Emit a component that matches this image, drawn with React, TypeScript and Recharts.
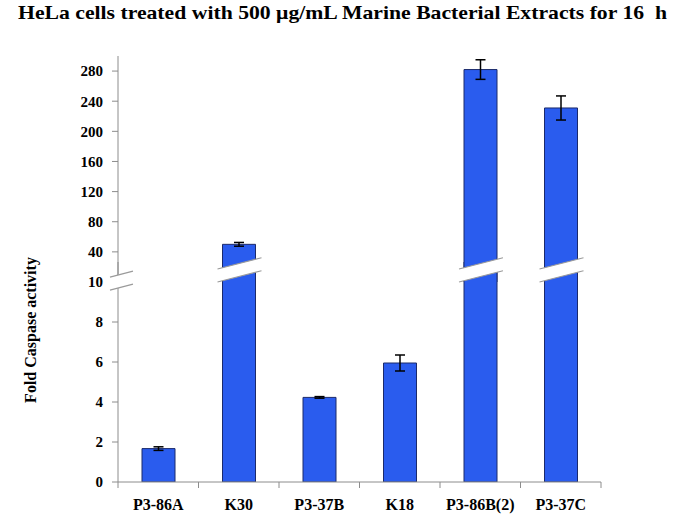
import React from 'react';
import { BarChart, Bar, XAxis, YAxis, ErrorBar } from 'recharts';

const categories = ['P3-86A', 'K30', 'P3-37B', 'K18', 'P3-86B(2)', 'P3-37C'];
const values = [1.67, 50, 4.23, 5.95, 282, 231];
const errors = [0.09, 2.5, 0.04, 0.4, 13, 16];
const lowerTicks = [0, 2, 4, 6, 8, 10];
const upperTicks = [40, 80, 120, 160, 200, 240, 280];
const BREAK_VALUE = 10;

const W = 685;
const H = 516;
const Y_AXIS_W = 118;
const RIGHT = 84;
const BAND = (W - Y_AXIS_W - RIGHT) / categories.length;
const FONT = '"Liberation Serif", "Times New Roman", serif';
const BAR_FILL = '#2A5CEE';
const BAR_STROKE = '#1B2A6B';
const AXIS = '#8C8C8C';
const SLOPE = -0.256;

const lowerData = categories.map((name, i) => ({
  name,
  value: values[i],
  err: values[i] <= BREAK_VALUE ? errors[i] : null,
}));
const upperData = categories.map((name, i) => ({
  name,
  value: values[i] > BREAK_VALUE ? values[i] : null,
  err: values[i] > BREAK_VALUE ? errors[i] : null,
}));

const BrokenBar = (props: any) => {
  const { x, y, width, height } = props;
  if (width == null || height == null || !isFinite(y)) return null;
  const bottom = y + height;
  const xc = x + width / 2;
  const yc = bottom - 12;
  const half = 6.5;
  const xl = x - 5;
  const xr = x + width + 6;
  const at = (X: number, off: number) => yc + SLOPE * (X - xc) + off;
  return (
    <g>
      <rect x={x} y={y} width={width} height={height} fill={BAR_FILL} />
      <path
        d={`M${x},${bottom} L${x},${y} L${x + width},${y} L${x + width},${bottom}`}
        fill="none"
        stroke={BAR_STROKE}
        strokeWidth={1}
      />
      <polygon
        points={`${xl},${at(xl, -half)} ${xr},${at(xr, -half)} ${xr},${at(xr, half)} ${xl},${at(xl, half)}`}
        fill="#fff"
      />
      <line x1={xl} y1={at(xl, -half)} x2={xr} y2={at(xr, -half)} stroke="#9A9A9A" strokeWidth={1.2} />
      <line x1={xl} y1={at(xl, half)} x2={xr} y2={at(xr, half)} stroke="#9A9A9A" strokeWidth={1.2} />
    </g>
  );
};

const XTick = (props: any) => {
  const { x, y, payload, index } = props;
  const last = index === categories.length - 1;
  return (
    <g>
      <line x1={x - BAND / 2} x2={x - BAND / 2} y1={y - 8} y2={y - 2} stroke={AXIS} />
      {last && <line x1={x + BAND / 2} x2={x + BAND / 2} y1={y - 8} y2={y - 2} stroke={AXIS} />}
      <text x={x} y={y + 20} textAnchor="middle" fontFamily={FONT} fontWeight="bold" fontSize={16} fill="#000">
        {payload.value}
      </text>
    </g>
  );
};

const tickStyle = { fontFamily: FONT, fontWeight: 'bold', fontSize: 15, fill: '#000' } as any;

export default function App() {
  const ax = Y_AXIS_W;
  const byc = 281.5;
  const bx1 = ax - 8;
  const bx2 = ax + 15;
  const bAt = (X: number, off: number) => byc + SLOPE * (X - ax) + off;
  return (
    <div style={{ position: 'absolute', left: 0, top: 0, width: W, height: H, background: '#fff' }}>
      <div style={{ position: 'absolute', left: 0, top: 0 }}>
        <BarChart width={W} height={H} data={lowerData} margin={{ top: 262, right: RIGHT, left: 0, bottom: 4 }} barSize={33}>
          <XAxis
            dataKey="name"
            height={30}
            stroke={AXIS}
            tickLine={false}
            tickSize={6}
            tickMargin={2}
            tick={<XTick />}
            interval={0}
          />
          <YAxis
            width={Y_AXIS_W}
            domain={[0, 11]}
            allowDataOverflow
            ticks={lowerTicks}
            stroke={AXIS}
            tickSize={6}
            tickMargin={9}
            tick={tickStyle}
          />
          <Bar dataKey="value" fill={BAR_FILL} stroke={BAR_STROKE} strokeWidth={1} isAnimationActive={false}>
            <ErrorBar dataKey="err" width={5} stroke="#000" strokeWidth={1.5} direction="y" />
          </Bar>
        </BarChart>
      </div>
      <div style={{ position: 'absolute', left: 0, top: 0 }}>
        <BarChart width={W} height={300} data={upperData} margin={{ top: 56, right: RIGHT, left: 0, bottom: 18 }} barSize={33}>
          <XAxis dataKey="name" hide height={0} />
          <YAxis
            width={Y_AXIS_W}
            domain={[0, 300]}
            ticks={upperTicks}
            stroke={AXIS}
            tickSize={6}
            tickMargin={9}
            tick={tickStyle}
          />
          <Bar dataKey="value" shape={<BrokenBar />} isAnimationActive={false}>
            <ErrorBar dataKey="err" width={5} stroke="#000" strokeWidth={1.5} direction="y" />
          </Bar>
        </BarChart>
      </div>
      <svg width={W} height={H} style={{ position: 'absolute', left: 0, top: 0, pointerEvents: 'none' }}>
        <text
          x={18}
          y={19}
          textLength={649}
          lengthAdjust="spacingAndGlyphs"
          fontFamily={FONT}
          fontWeight="bold"
          fontSize={19}
          fill="#000"
          style={{ whiteSpace: 'pre' }}
        >
          {'HeLa cells treated with 500 μg/mL Marine Bacterial Extracts for 16  h'}
        </text>
        <text
          transform="translate(30, 330) rotate(-90)"
          textAnchor="middle"
          dominantBaseline="central"
          fontFamily={FONT}
          fontWeight="bold"
          fontSize={16}
          fill="#000"
        >
          Fold Caspase activity
        </text>
        <polygon
          points={`${bx1},${bAt(bx1, -6.5)} ${bx2},${bAt(bx2, -6.5)} ${bx2},${bAt(bx2, 6.5)} ${bx1},${bAt(bx1, 6.5)}`}
          fill="#fff"
        />
        <line x1={bx1} y1={bAt(bx1, -6.5)} x2={bx2} y2={bAt(bx2, -6.5)} stroke="#9A9A9A" strokeWidth={1.2} />
        <line x1={bx1} y1={bAt(bx1, 6.5)} x2={bx2} y2={bAt(bx2, 6.5)} stroke="#9A9A9A" strokeWidth={1.2} />
      </svg>
    </div>
  );
}
